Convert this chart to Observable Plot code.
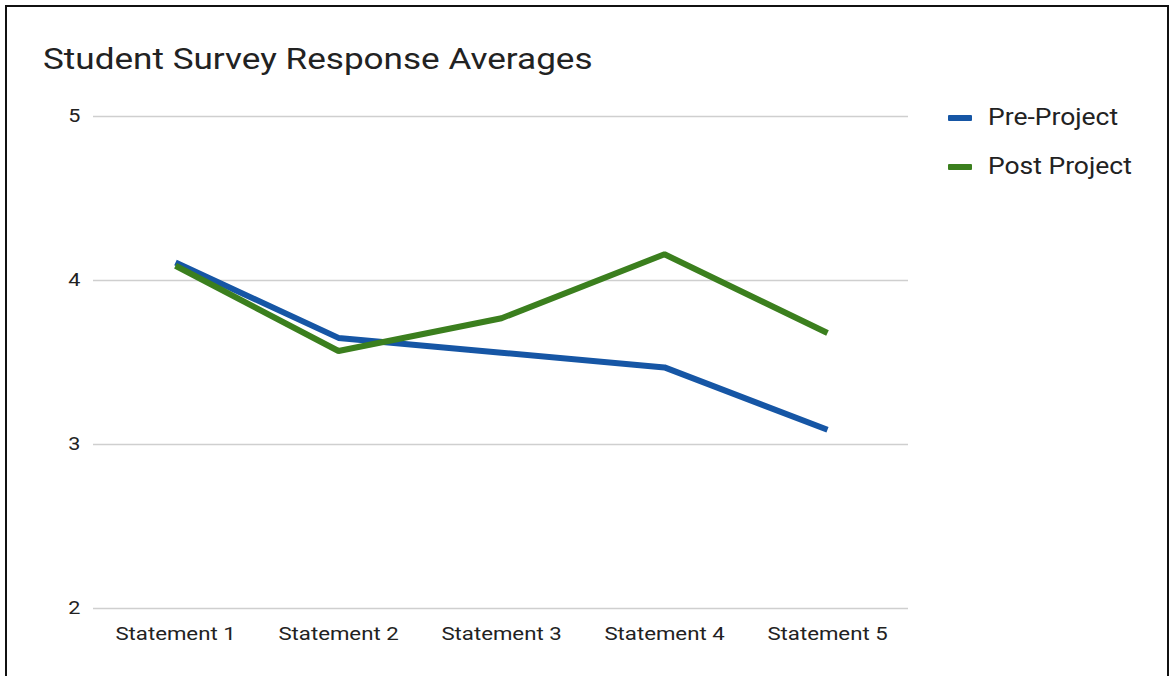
<!DOCTYPE html>
<html>
<head>
<meta charset="utf-8">
<script src="https://cdn.jsdelivr.net/npm/d3@7"></script>
<script src="https://cdn.jsdelivr.net/npm/@observablehq/plot@0.6"></script>
<style>
  html, body { margin: 0; padding: 0; background: #fff; }
  #wrap { position: relative; width: 1171px; height: 676px; overflow: hidden; font-family: Roboto, "Noto Sans", sans-serif; }
  #frame { position: absolute; left: 5px; top: 5px; width: 1164px; height: 676px; border: 2px solid #111; box-sizing: border-box; }
  #title { position: absolute; left: 43px; top: 41px; font-size: 30px; color: #222; white-space: nowrap; transform: scaleX(1.17); transform-origin: left center; }
  #chart { position: absolute; left: 0; top: 0; }
  .leg { position: absolute; left: 948px; font-size: 23px; color: #222; white-space: nowrap; display: flex; align-items: center; }
  .leg span.sw { display: inline-block; width: 24px; height: 6px; margin-right: 16px; border-radius: 1px; }
  .leg span.tx { display: inline-block; transform: scaleX(1.15); transform-origin: left center; }
</style>
</head>
<body>
<div id="wrap">
  <div id="frame"></div>
  <div id="chart"></div>
  <div id="title">Student Survey Response Averages</div>
  <div id="legend"></div>
</div>
<script>
const statements = ["Statement 1", "Statement 2", "Statement 3", "Statement 4", "Statement 5"];
const preProject = [4.11, 3.65, 3.56, 3.47, 3.09];
const postProject = [4.09, 3.57, 3.77, 4.16, 3.68];
const seriesNames = ["Pre-Project", "Post Project"];
const seriesColors = ["#1656a5", "#3b7f1e"];
const yTicks = [2, 3, 4, 5];

const rows = [];
statements.forEach((s, i) => {
  rows.push({statement: s, value: preProject[i], series: seriesNames[0]});
});
statements.forEach((s, i) => {
  rows.push({statement: s, value: postProject[i], series: seriesNames[1]});
});

const chart = Plot.plot({
  width: 1171,
  height: 676,
  marginTop: 116,
  marginBottom: 68,
  marginLeft: 93,
  marginRight: 263,
  style: {fontFamily: "Roboto, 'Noto Sans', sans-serif", fontSize: "18px", color: "#222", background: "transparent"},
  x: {type: "point", domain: statements, padding: 0.5, label: null},
  y: {domain: [2, 5], ticks: yTicks, label: null},
  color: {domain: seriesNames, range: seriesColors},
  marks: [
    Plot.gridY(yTicks, {stroke: "#cfcfcf", strokeOpacity: 1, strokeWidth: 1.3}),
    Plot.axisY(yTicks, {tickSize: 0, tickPadding: 13, fontSize: 18, fill: "#222", tickFormat: d => String(d), className: "ya"}),
    Plot.axisX({tickSize: 0, tickPadding: 18, fontSize: 18.5, fill: "#222", className: "xa"}),
    Plot.line(rows, {x: "statement", y: "value", z: "series", stroke: "series", strokeWidth: 6, strokeLinejoin: "miter", strokeLinecap: "butt"})
  ]
});
// widen axis text horizontally to match the reference's stretched glyphs
d3.select(chart).selectAll("g[aria-label='x-axis tick label'] text, g[aria-label='y-axis tick label'] text").each(function() {
  const t = this.getAttribute("transform") || "";
  this.setAttribute("transform", t + " scale(1.2,1)");
});
document.getElementById("chart").appendChild(chart);

const legend = document.getElementById("legend");
const legendTops = [104, 153];
seriesNames.forEach((n, i) => {
  const d = document.createElement("div");
  d.className = "leg";
  d.style.top = legendTops[i] + "px";
  d.innerHTML = `<span class="sw" style="background:${seriesColors[i]}"></span><span class="tx">${n}</span>`;
  legend.appendChild(d);
});
</script>
</body>
</html>
